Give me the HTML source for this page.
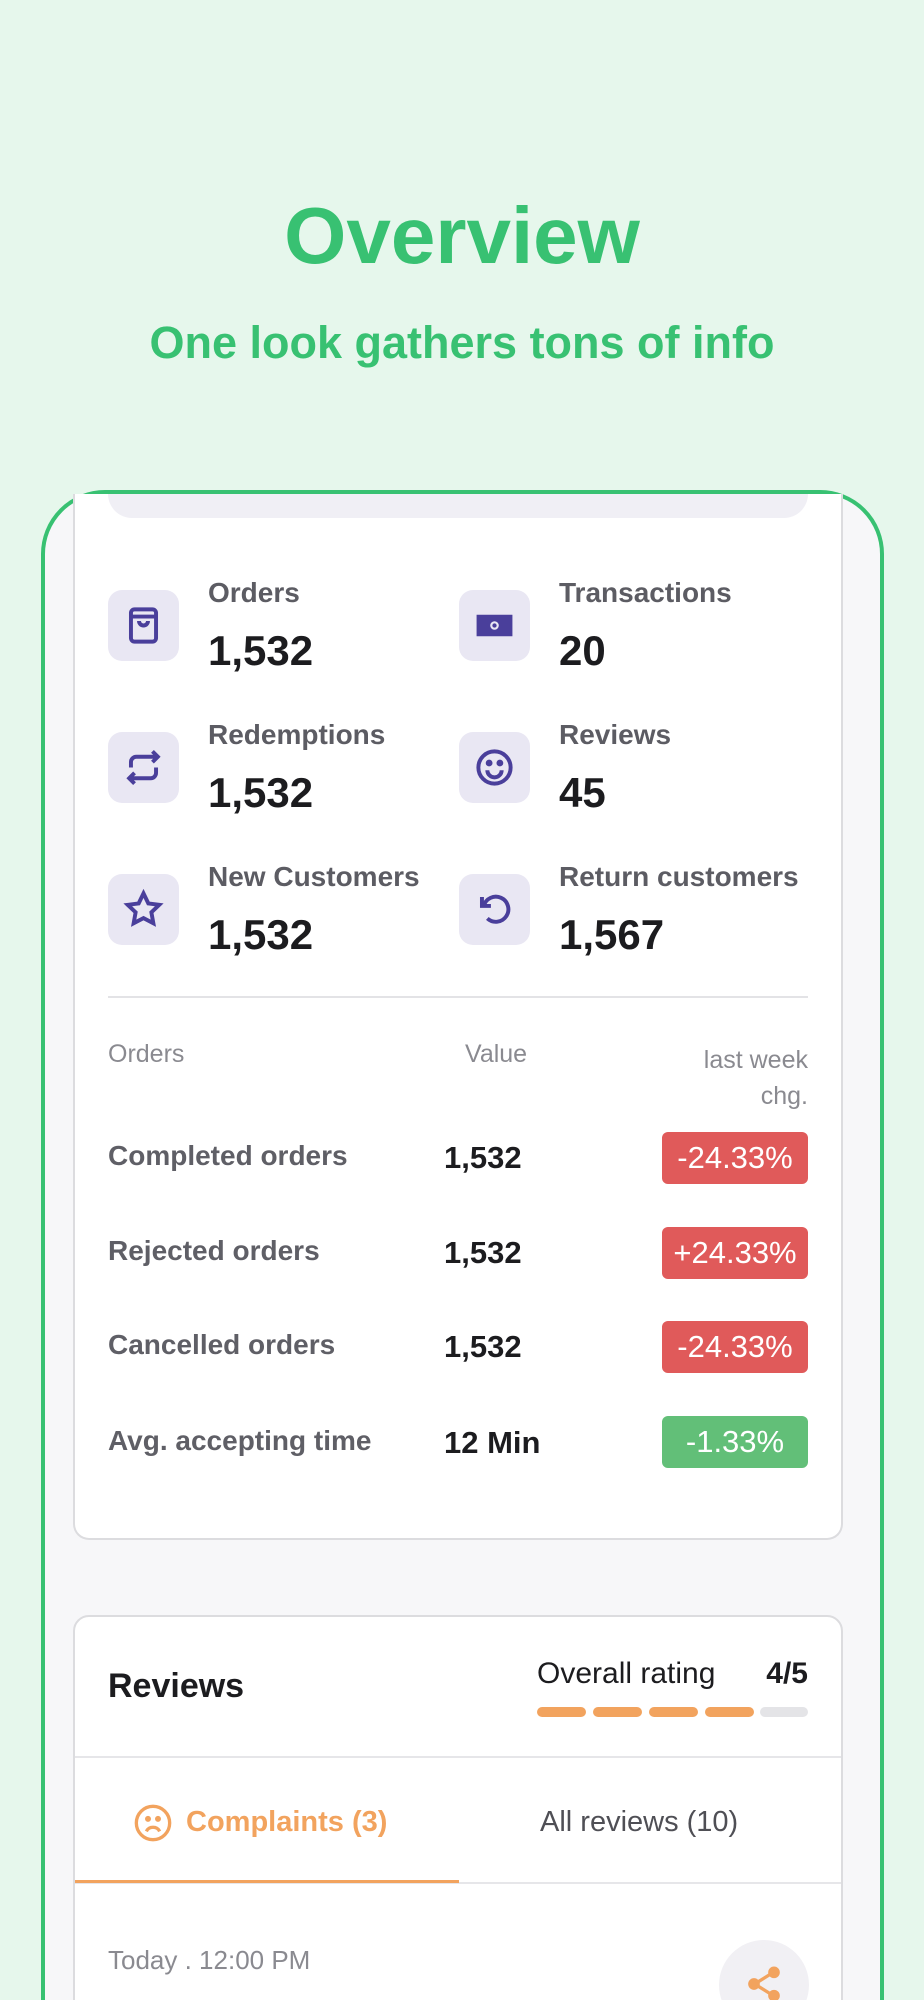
<!DOCTYPE html>
<html><head><meta charset="utf-8"><style>
*{margin:0;padding:0;box-sizing:border-box}
html,body{width:924px;height:2000px;overflow:hidden}
body{background:#e6f7ec;font-family:"Liberation Sans",sans-serif}
#w{position:relative;width:924px;height:2000px;overflow:hidden}
.a{position:absolute}
.t{position:absolute;white-space:nowrap;line-height:1}
.ic{position:absolute;width:71px;height:71px;border-radius:14px;background:#e9e7f3}
.ic svg{position:absolute;left:14px;top:14px}
.lb{font-size:28px;font-weight:bold;color:#5c5c63}
.vl{font-size:42px;font-weight:bold;color:#1c1c1f}
.rl{font-size:28px;font-weight:bold;color:#5f5f66}
.rv{font-size:31px;font-weight:bold;color:#1c1c1f}
.bd{position:absolute;left:662px;width:146px;height:52px;border-radius:6px;color:#fff;font-size:31px;text-align:center;line-height:52px}
.bar{position:absolute;top:1707px;width:49px;height:10px;border-radius:5px;background:#f2a35e}
</style></head><body><div id="w">
<div class="t" style="left:0;width:924px;text-align:center;top:196px;font-size:80px;font-weight:bold;color:#38c172">Overview</div>
<div class="t" style="left:0;width:924px;text-align:center;top:320px;font-size:45px;font-weight:bold;color:#38c172">One look gathers tons of info</div>
<div class="a" style="left:41px;top:490px;width:843px;height:1600px;border:4px solid #38c172;border-radius:64px;background:#f7f7f9"></div>
<div class="a" style="left:73px;top:494px;width:770px;height:1046px;background:#fff;border:2px solid #dcdcdf;border-top:none;border-radius:0 0 16px 16px"></div>
<div class="a" style="left:108px;top:494px;width:700px;height:24px;background:#f0eff5;border-radius:0 0 24px 24px"></div>

<div class="ic" style="left:108px;top:590px"><svg width="43" height="43" viewBox="0 0 24 24" fill="none" stroke="#4a3f9b" stroke-width="2.2"><rect x="5" y="3" width="14" height="18" rx="2"/><path d="M5 7h14M9.5 9.5a2.5 2.5 0 0 0 5 0"/></svg></div>
<div class="ic" style="left:459px;top:590px"><svg width="43" height="43" viewBox="0 0 24 24"><rect x="2" y="6" width="20" height="12" fill="#4a3f9b"/><circle cx="12" cy="12" r="1.8" fill="none" stroke="#e9e7f3" stroke-width="1.2"/></svg></div>
<div class="ic" style="left:108px;top:732px"><svg width="43" height="43" viewBox="0 0 24 24" fill="none" stroke="#4a3f9b" stroke-width="2.2"><path d="M5 12V9a3 3 0 0 1 3-3h12M17 3l3 3-3 3M19 12v3a3 3 0 0 1-3 3H4M7 21l-3-3 3-3"/></svg></div>
<div class="ic" style="left:459px;top:732px"><svg width="43" height="43" viewBox="0 0 24 24" fill="none" stroke="#4a3f9b" stroke-width="2.2"><circle cx="12" cy="12" r="9"/><path d="M8 13.5a4 4 0 0 0 8 0"/><circle cx="9" cy="9.5" r=".8" fill="#4a3f9b"/><circle cx="15" cy="9.5" r=".8" fill="#4a3f9b"/></svg></div>
<div class="ic" style="left:108px;top:874px"><svg width="43" height="43" viewBox="0 0 24 24" fill="none" stroke="#4a3f9b" stroke-width="2.2"><path d="M12 3l2.7 5.6 6.1.8-4.4 4.2 1.1 6.1L12 16.8l-5.5 2.9 1.1-6.1-4.4-4.2 6.1-.8z"/></svg></div>
<div class="ic" style="left:459px;top:874px"><svg width="43" height="43" viewBox="0 0 24 24" fill="none" stroke="#4a3f9b" stroke-width="2.2"><path d="M5 5v5h5"/><path d="M6 10a7 7 0 1 1 2 7"/></svg></div>

<div class="t lb" style="left:208px;top:579px">Orders</div><div class="t vl" style="left:208px;top:630px">1,532</div>
<div class="t lb" style="left:559px;top:579px">Transactions</div><div class="t vl" style="left:559px;top:630px">20</div>
<div class="t lb" style="left:208px;top:721px">Redemptions</div><div class="t vl" style="left:208px;top:772px">1,532</div>
<div class="t lb" style="left:559px;top:721px">Reviews</div><div class="t vl" style="left:559px;top:772px">45</div>
<div class="t lb" style="left:208px;top:863px">New Customers</div><div class="t vl" style="left:208px;top:914px">1,532</div>
<div class="t lb" style="left:559px;top:863px">Return customers</div><div class="t vl" style="left:559px;top:914px">1,567</div>

<div class="a" style="left:108px;top:996px;width:700px;height:2px;background:#e3e3e6"></div>
<div class="t" style="left:108px;top:1042px;font-size:25px;color:#8a8a90">Orders</div>
<div class="t" style="left:465px;top:1042px;font-size:25px;color:#8a8a90">Value</div>
<div class="t" style="left:600px;width:208px;text-align:right;top:1042px;font-size:25px;color:#8a8a90;line-height:36px;white-space:normal">last week<br>chg.</div>

<div class="t rl" style="left:108px;top:1142px">Completed orders</div><div class="t rv" style="left:444px;top:1142px">1,532</div><div class="bd" style="top:1132px;background:#e05a5a">-24.33%</div>
<div class="t rl" style="left:108px;top:1237px">Rejected orders</div><div class="t rv" style="left:444px;top:1237px">1,532</div><div class="bd" style="top:1227px;background:#e05a5a">+24.33%</div>
<div class="t rl" style="left:108px;top:1331px">Cancelled orders</div><div class="t rv" style="left:444px;top:1331px">1,532</div><div class="bd" style="top:1321px;background:#e05a5a">-24.33%</div>
<div class="t rl" style="left:108px;top:1427px">Avg. accepting time</div><div class="t rv" style="left:444px;top:1427px">12 Min</div><div class="bd" style="top:1416px;background:#62bf78">-1.33%</div>

<div class="a" style="left:73px;top:1615px;width:770px;height:450px;background:#fff;border:2px solid #dcdcdf;border-radius:16px"></div>
<div class="t" style="left:108px;top:1669px;font-size:34px;font-weight:bold;color:#1c1c1f">Reviews</div>
<div class="t" style="left:537px;top:1659px;font-size:30px;color:#1c1c1f">Overall rating</div>
<div class="t" style="left:760px;width:48px;text-align:right;top:1659px;font-size:30px;font-weight:bold;color:#1c1c1f">4/5</div>
<div class="bar" style="left:537px"></div><div class="bar" style="left:593px"></div><div class="bar" style="left:649px"></div><div class="bar" style="left:705px"></div><div class="bar" style="left:760px;width:48px;background:#e4e4e7"></div>
<div class="a" style="left:75px;top:1756px;width:766px;height:2px;background:#e6e6e9"></div>
<svg class="a" style="left:133px;top:1803px" width="40" height="40" viewBox="0 0 24 24" fill="none" stroke="#f2a35e" stroke-width="2"><circle cx="12" cy="12" r="10"/><path d="M8 17a4.5 4.5 0 0 1 8 0"/><circle cx="9" cy="9.5" r=".8" fill="#f2a35e"/><circle cx="15" cy="9.5" r=".8" fill="#f2a35e"/></svg>
<div class="t" style="left:186px;top:1808px;font-size:29px;font-weight:bold;color:#f2a35e">Complaints (3)</div>
<div class="t" style="left:540px;top:1808px;font-size:29px;color:#4f4f55">All reviews (10)</div>
<div class="a" style="left:75px;top:1882px;width:766px;height:2px;background:#e6e6e9"></div>
<div class="a" style="left:75px;top:1880px;width:384px;height:3px;background:#f2a35e"></div>
<div class="t" style="left:108px;top:1947px;font-size:26px;color:#8a8a90">Today . 12:00 PM</div>
<div class="a" style="left:719px;top:1940px;width:90px;height:90px;border-radius:50%;background:#f1f0f4"></div>
<svg class="a" style="left:744px;top:1964px" width="40" height="40" viewBox="0 0 24 24" fill="#f2a35e" stroke="#f2a35e" stroke-width="2"><circle cx="18" cy="5" r="2.5"/><circle cx="6" cy="12" r="2.5"/><circle cx="18" cy="19" r="2.5"/><path d="M8 11l8-5M8 13l8 5"/></svg>
</div></body></html>
